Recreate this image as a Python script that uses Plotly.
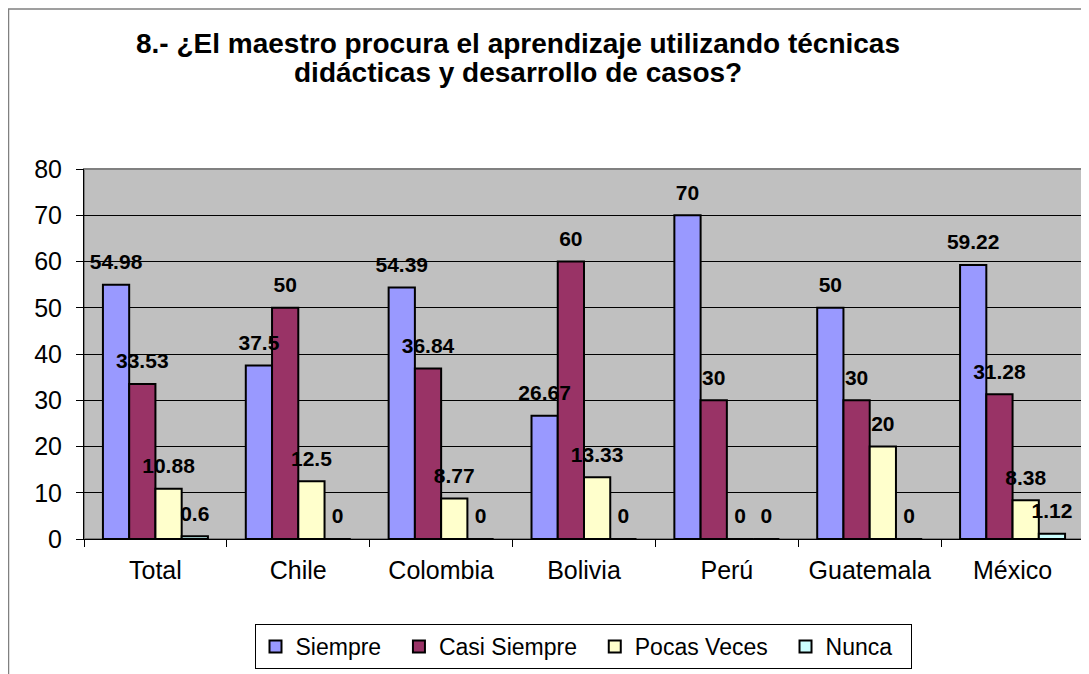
import plotly.graph_objects as go

# Data
categories = ["Total", "Chile", "Colombia", "Bolivia", "Perú", "Guatemala", "México"]
siempre = [54.98, 37.5, 54.39, 26.67, 70, 50, 59.22]
casi_siempre = [33.53, 50, 36.84, 60, 30, 30, 31.28]
pocas_veces = [10.88, 12.5, 8.77, 13.33, 0, 20, 8.38]
nunca = [0.6, 0, 0, 0, 0, 0, 1.12]

series_names = ["Siempre", "Casi Siempre", "Pocas Veces", "Nunca"]
series_values = [siempre, casi_siempre, pocas_veces, nunca]
series_colors = ["#9999FF", "#993366", "#FFFFCC", "#CCFFFF"]

title_lines = ["8.- ¿El maestro procura el aprendizaje utilizando técnicas",
               "didácticas y desarrollo de casos?"]

FONT = "Liberation Sans, Arial, sans-serif"
NBSP = "\u00a0"

fig = go.Figure()

# bars
for name, vals, color in zip(series_names, series_values, series_colors):
    fig.add_trace(go.Bar(
        x=categories,
        y=vals,
        name=name + NBSP * 2,
        marker=dict(color=color, line=dict(color="black", width=2)),
        hoverinfo="x+y+name",
    ))

# data labels (grouped scatter so they sit over each bar, lifted a bit like Excel)
for name, vals in zip(series_names, series_values):
    fig.add_trace(go.Scatter(
        x=categories,
        y=vals,
        mode="markers+text",
        text=[f"{v:g}" for v in vals],
        textposition="top center",
        marker=dict(size=15, color="rgba(0,0,0,0)"),
        textfont=dict(family=FONT, size=21, color="black", weight="bold"),
        cliponaxis=False,
        showlegend=False,
        hoverinfo="skip",
    ))

# title, two lines, tight Excel-like spacing
for text, ypos in zip(title_lines, [1.338, 1.262]):
    fig.add_annotation(
        text=text, xref="paper", yref="paper", x=0.434, y=ypos,
        xanchor="center", yanchor="middle", showarrow=False,
        font=dict(family=FONT, size=28, color="black", weight="bold"),
    )

# outer chart border and plot area frame
fig.add_shape(type="rect", xref="paper", yref="paper",
              x0=-0.0755, x1=1.02, y0=-0.40, y1=1.4324,
              line=dict(color="#808080", width=1.5), layer="below")
fig.add_shape(type="rect", xref="paper", yref="paper",
              x0=0, x1=1, y0=0, y1=1,
              line=dict(color="#808080", width=2), layer="below")

fig.update_layout(
    width=1081,
    height=666,
    barmode="group",
    bargap=0.265,
    bargroupgap=0,
    scattermode="group",
    scattergap=0.265,
    plot_bgcolor="#C0C0C0",
    paper_bgcolor="white",
    margin=dict(l=76, r=5, t=161, b=135),
    font=dict(family=FONT, color="black"),
    xaxis=dict(
        showline=True, linecolor="black", linewidth=1,
        ticks="outside", tickson="boundaries", ticklen=7, tickcolor="black",
        tickfont=dict(size=25), showgrid=False, ticklabelstandoff=9,
    ),
    yaxis=dict(
        range=[0, 80], dtick=10,
        showline=True, linecolor="black", linewidth=1,
        ticks="outside", ticklen=7, tickcolor="black",
        tickfont=dict(size=25), ticklabelstandoff=9,
        showgrid=True, gridcolor="black", gridwidth=1,
        zeroline=False,
    ),
    legend=dict(
        orientation="h",
        x=0.499, xanchor="center",
        y=-0.2297, yanchor="top",
        bordercolor="black", borderwidth=1,
        font=dict(size=23),
        itemwidth=30,
        tracegroupgap=0,
    ),
)

fig.write_html("out.html")
